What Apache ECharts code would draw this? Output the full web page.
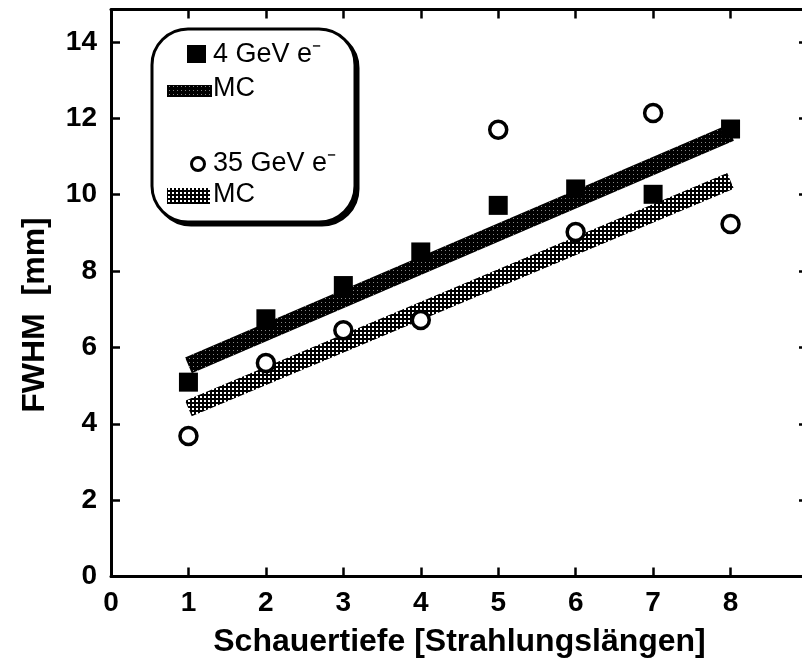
<!DOCTYPE html>
<html>
<head>
<meta charset="utf-8">
<script src="https://cdn.jsdelivr.net/npm/echarts@6/dist/echarts.min.js"></script>
<style>
html,body{margin:0;padding:0;background:#fff;}
#chart{width:802px;height:662px;}
</style>
</head>
<body>
<div id="chart"></div>
<script>
// ---- data ----
const depth = [1, 2, 3, 4, 5, 6, 7, 8];
const fwhm4GeV = [5.09, 6.75, 7.62, 8.50, 9.72, 10.15, 10.01, 11.72];
const fwhm35GeV = [3.68, 5.59, 6.45, 6.72, 11.70, 9.02, 12.14, 9.23];
const mcX = [1, 8];
const mc4GeV = [5.53, 11.62];
const mc35GeV = [4.40, 10.36];
const xTicks = [0, 1, 2, 3, 4, 5, 6, 7, 8];
const yTicks = [0, 2, 4, 6, 8, 10, 12, 14];
const legendLabels = ['4 GeV e\u207B', 'MC', '35 GeV e\u207B', 'MC'];
const xName = 'Schauertiefe [Strahlungslängen]';
const yName = 'FWHM  [mm]';

// ---- patterns ----
function makePattern(kind) {
  const c = document.createElement('canvas');
  c.width = 4; c.height = 4;
  const g = c.getContext('2d');
  g.fillStyle = '#000'; g.fillRect(0, 0, 4, 4);
  if (kind === 'stipple') {
    g.fillStyle = '#fff';
    g.fillRect(0, 0, 2, 2);
  } else {
    g.fillStyle = '#888';
    g.fillRect(1, 2, 1, 1);
  }
  return { image: c, repeat: 'repeat' };
}
const stipple = makePattern('stipple');
const dark = makePattern('dark');

const pts4 = depth.map((d, i) => [d, fwhm4GeV[i]]);
const pts35 = depth.map((d, i) => [d, fwhm35GeV[i]]);
const line4 = mcX.map((d, i) => [d, mc4GeV[i]]);
const line35 = mcX.map((d, i) => [d, mc35GeV[i]]);

const axisLineStyle = { color: '#000', width: 3 };
const tickStyle = { color: '#000', width: 2.5 };
const labelFont = { fontFamily: 'Liberation Sans', fontWeight: 'bold', fontSize: 28, color: '#000' };
const legendFont = '27px "Liberation Sans"';

const chart = echarts.init(document.getElementById('chart'), null, { renderer: 'canvas' });
chart.setOption({
  animation: false,
  backgroundColor: '#fff',
  grid: { left: 111, right: -6, top: 9.5, bottom: 85.5, containLabel: false, outerBoundsMode: 'none' },
  xAxis: [
    {
      type: 'value', min: 0, max: 9, interval: 1, position: 'bottom',
      axisLine: { show: true, onZero: false, lineStyle: axisLineStyle },
      axisTick: { show: true, inside: true, length: 9, lineStyle: tickStyle },
      axisLabel: Object.assign({ margin: 13, formatter: v => (xTicks.indexOf(v) >= 0 ? String(v) : '') }, labelFont),
      splitLine: { show: false },
      name: xName, nameLocation: 'middle', nameGap: 50,
      nameTextStyle: { fontFamily: 'Liberation Sans', fontWeight: 'bold', fontSize: 32, color: '#000' }
    },
    {
      type: 'value', min: 0, max: 9, interval: 1, position: 'top',
      axisLine: { show: true, onZero: false, lineStyle: axisLineStyle },
      axisTick: { show: true, inside: true, length: 9, lineStyle: tickStyle },
      axisLabel: { show: false }, splitLine: { show: false }
    }
  ],
  yAxis: [
    {
      type: 'value', min: 0, max: 14.85, interval: 2, position: 'left',
      axisLine: { show: true, onZero: false, lineStyle: axisLineStyle },
      axisTick: { show: true, inside: true, length: 9, lineStyle: tickStyle },
      axisLabel: Object.assign({ margin: 14, formatter: v => (yTicks.indexOf(v) >= 0 ? String(v) : '') }, labelFont),
      splitLine: { show: false },
      name: yName, nameLocation: 'middle', nameGap: 60, nameRotate: 90,
      nameTextStyle: { fontFamily: 'Liberation Sans', fontWeight: 'bold', fontSize: 32, color: '#000', padding: [0, 44, 0, 0] }
    },
    {
      type: 'value', min: 0, max: 14.85, interval: 2, position: 'right',
      axisLine: { show: true, onZero: false, lineStyle: axisLineStyle },
      axisTick: { show: true, inside: true, length: 9, lineStyle: tickStyle },
      axisLabel: { show: false }, splitLine: { show: false }
    }
  ],
  series: [
    {
      name: 'MC 4 GeV', type: 'line', data: line4, showSymbol: false, symbol: 'none',
      lineStyle: { color: dark, width: 17, cap: 'butt', opacity: 1 }, z: 2, silent: true
    },
    {
      name: 'MC 35 GeV', type: 'line', data: line35, showSymbol: false, symbol: 'none',
      lineStyle: { color: stipple, width: 17, cap: 'butt', opacity: 1 }, z: 2, silent: true
    },
    {
      name: '4 GeV e-', type: 'scatter', data: pts4, symbol: 'rect', symbolSize: 19,
      itemStyle: { color: '#000', opacity: 1 }, z: 3
    },
    {
      name: '35 GeV e-', type: 'scatter', data: pts35, symbol: 'circle', symbolSize: 17,
      itemStyle: { color: '#fff', borderColor: '#000', borderWidth: 3.5, opacity: 1 }, z: 4
    }
  ],
  graphic: [
    {
      type: 'rect', z: 9, shape: { x: 155, y: 32, width: 203, height: 193, r: 36 },
      style: { fill: '#000', stroke: '#000', lineWidth: 3 }
    },
    {
      type: 'rect', z: 10, shape: { x: 152, y: 29, width: 203, height: 193, r: 36 },
      style: { fill: '#fff', stroke: '#000', lineWidth: 3 }
    },
    { type: 'rect', z: 11, shape: { x: 187, y: 45, width: 19, height: 18 }, style: { fill: '#000' } },
    { type: 'text', z: 11, x: 213, y: 55, style: { text: legendLabels[0], fill: '#000', font: legendFont, verticalAlign: 'middle' } },
    { type: 'rect', z: 11, shape: { x: 167, y: 85, width: 45, height: 12 }, style: { fill: dark } },
    { type: 'text', z: 11, x: 213, y: 89, style: { text: legendLabels[1], fill: '#000', font: legendFont, verticalAlign: 'middle' } },
    { type: 'circle', z: 11, shape: { cx: 198, cy: 164, r: 6.5 }, style: { fill: '#fff', stroke: '#000', lineWidth: 3 } },
    { type: 'text', z: 11, x: 213, y: 164, style: { text: legendLabels[2], fill: '#000', font: legendFont, verticalAlign: 'middle' } },
    { type: 'rect', z: 11, shape: { x: 167, y: 188, width: 43, height: 16 }, style: { fill: stipple } },
    { type: 'text', z: 11, x: 213, y: 195, style: { text: legendLabels[3], fill: '#000', font: legendFont, verticalAlign: 'middle' } }
  ]
});
</script>
</body>
</html>
